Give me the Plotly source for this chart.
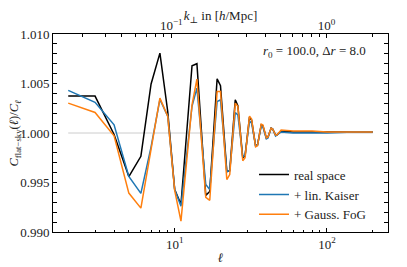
import plotly.graph_objects as go

# multipoles
ell = [2, 3, 4, 5, 6, 7, 8, 9, 10, 11, 13, 14, 16, 17, 19, 20, 22, 23, 25, 26,
       28, 29, 31, 32, 34, 35, 37, 38, 40, 41, 43, 44, 46, 47, 50, 60, 80, 100, 150, 200]

real_space = [1.00373, 1.00373, 0.99985, 0.9956, 0.99765, 1.00495, 1.00807, 1.0022, 0.9943, 0.9928,
              1.0068, 1.0070, 0.9937, 0.9941, 1.00547, 1.00477, 0.9961, 0.9962, 1.00335, 1.00275,
              0.9975, 0.9977, 1.0016, 1.0013, 0.9987, 0.9988, 1.0008, 1.0007, 0.9995, 0.9996,
              1.0005, 1.0004, 0.9998, 0.9998, 1.0002, 1.0001, 1.0001, 1.0001, 1.0001, 1.0001]

lin_kaiser = [1.0043, 1.0031, 1.00083, 0.99561, 0.9939, 0.9986, 1.0034, 1.0017, 0.9943, 0.9926,
              1.0027, 1.00453, 0.9948, 0.9943, 1.00318, 1.00335, 0.9961, 0.9962, 1.00207, 1.00183,
              0.9976, 0.9978, 1.0012, 1.0010, 0.9987, 0.9988, 1.0007, 1.0006, 0.9994, 0.9995,
              1.0005, 1.0004, 0.9997, 0.9998, 1.0001, 1.0000, 1.0000, 1.0000, 1.0001, 1.0001]

gauss_fog = [1.00302, 1.00207, 0.99972, 0.99393, 0.99241, 0.9982, 1.00352, 1.0017, 0.9942, 0.9911,
             1.00285, 1.00544, 0.9935, 0.9932, 1.00419, 1.00419, 0.9953, 0.9958, 1.00302, 1.00269,
             0.9972, 0.9975, 1.0017, 1.0014, 0.9986, 0.9987, 1.0009, 1.0008, 0.9995, 0.9996,
             1.0005, 1.0004, 0.9998, 0.9998, 1.0003, 1.0002, 1.0002, 1.0001, 1.0001, 1.0001]

series_names = ["real space", "+ lin. Kaiser", "+ Gauss. FoG"]
series_colors = ["black", "#1f77b4", "#ff7f0e"]

r0 = 100.0
dr = 8.0

y_ticks = [0.990, 0.995, 1.000, 1.005, 1.010]
y_tick_labels = ["0.990", "0.995", "1.000", "1.005", "1.010"]
x_ticks = [10, 100]
x_tick_labels = ["10<sup>1</sup>", "10<sup>2</sup>"]
x_minor = [2, 3, 4, 5, 6, 7, 8, 9, 20, 30, 40, 50, 60, 70, 80, 90, 200]
k_ticks = [0.1, 1.0]
k_tick_labels = ["10<sup>\u22121</sup>", "10<sup>0</sup>"]
k_minor = [0.03, 0.04, 0.05, 0.06, 0.07, 0.08, 0.09, 0.2, 0.3, 0.4, 0.5, 0.6, 0.7, 0.8, 0.9, 2.0]

def k_to_ell(k):
    return k * r0 - 0.5

FONT = "Liberation Serif, DejaVu Serif, Times New Roman, serif"
xr = [0.201, 2.401]

fig = go.Figure()
fig.add_trace(go.Scatter(x=[ell[0], ell[-1]], y=[1.0, 1.0], mode="lines",
                         line=dict(color="#cccccc", width=1), showlegend=False, hoverinfo="skip"))
for name, col, ys in zip(series_names, series_colors, [real_space, lin_kaiser, gauss_fog]):
    fig.add_trace(go.Scatter(x=ell, y=ys, mode="lines", name=name,
                             line=dict(color=col, width=1.5)))
# dummy trace for top axis
fig.add_trace(go.Scatter(x=[ell[0], ell[-1]], y=[1.0, 1.0], xaxis="x2", mode="lines",
                         line=dict(width=0), opacity=0, showlegend=False, hoverinfo="skip"))

fig.update_layout(
    width=407, height=267,
    margin=dict(l=45, r=27, t=26, b=43),
    paper_bgcolor="white", plot_bgcolor="white",
    font=dict(family=FONT, size=13, color="#222222"),
    showlegend=True,
    legend=dict(x=0.6, y=0.012, xanchor="left", yanchor="bottom",
                bgcolor="rgba(0,0,0,0)", font=dict(family=FONT, size=13), tracegroupgap=0,
                itemwidth=30),
    xaxis=dict(type="log", range=xr, showgrid=False, zeroline=False, automargin=False,
               showline=True, linecolor="black", linewidth=1, mirror=True,
               ticks="inside", ticklen=4, tickcolor="black",
               tickfont=dict(family=FONT, size=13),
               tickmode="array", tickvals=x_ticks, ticktext=x_tick_labels,
               minor=dict(tickmode="array", tickvals=x_minor, ticks="inside", ticklen=2.5, tickcolor="black"),
               title=dict(text="<i>\u2113</i>", standoff=2, font=dict(family=FONT, size=13))),
    xaxis2=dict(type="log", range=xr, overlaying="x", side="top", anchor="y", automargin=False,
                showgrid=False, zeroline=False, showline=False,
                ticks="inside", ticklen=4, tickcolor="black",
                tickfont=dict(family=FONT, size=13),
                tickmode="array", tickvals=[k_to_ell(k) for k in k_ticks], ticktext=k_tick_labels,
                minor=dict(tickmode="array", tickvals=[k_to_ell(k) for k in k_minor],
                           ticks="inside", ticklen=2.5, tickcolor="black"),
                title=dict(text="<i>k</i><sub>\u22a5</sub> in [<i>h</i>/Mpc]", standoff=0,
                           font=dict(family=FONT, size=13))),
    yaxis=dict(range=[0.990, 1.010], showgrid=False, zeroline=False, automargin=False,
               showline=True, linecolor="black", linewidth=1, mirror="allticks",
               ticks="inside", ticklen=4, tickcolor="black",
               tickfont=dict(family=FONT, size=13),
               tickmode="array", tickvals=y_ticks, ticktext=y_tick_labels,
               minor=dict(dtick=0.001, ticks="inside", ticklen=2.5, tickcolor="black")),
    annotations=[
        dict(text="<i>r</i><sub>0</sub> = %.1f, \u0394<i>r</i> = %.1f" % (r0, dr),
             xref="paper", yref="paper", x=0.94, y=0.91,
             xanchor="right", yanchor="middle", showarrow=False,
             font=dict(family=FONT, size=13)),
        dict(text="<i>C</i><sub>flat\u2212sky</sub>(<i>\u2113</i>)/<i>C</i><sub><i>\u2113</i></sub>",
             xref="paper", yref="paper", x=-0.112, y=0.5, textangle=-90,
             xanchor="center", yanchor="middle", showarrow=False,
             font=dict(family=FONT, size=12.5)),
    ],
)

fig.write_html("out.html")
